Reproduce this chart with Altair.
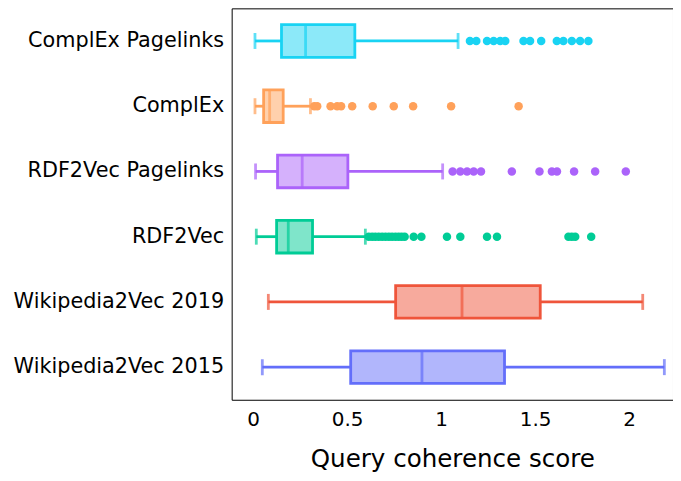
import altair as alt
import pandas as pd

models = ["ComplEx Pagelinks", "ComplEx", "RDF2Vec Pagelinks", "RDF2Vec",
          "Wikipedia2Vec 2019", "Wikipedia2Vec 2015"]
colors = ["#19D3F3", "#FFA15A", "#AB63FA", "#00CC96", "#EF553B", "#636EFA"]

lo = [0.010, 0.010, 0.013, 0.017, 0.081, 0.049]
q1 = [0.151, 0.056, 0.130, 0.125, 0.758, 0.519]
med = [0.279, 0.088, 0.261, 0.187, 1.111, 0.898]
q3 = [0.541, 0.160, 0.504, 0.316, 1.527, 1.337]
hi = [1.090, 0.305, 1.008, 0.597, 2.072, 2.187]

outliers = {
    "ComplEx Pagelinks": [1.153, 1.187, 1.244, 1.279, 1.314, 1.341, 1.438, 1.473,
                          1.532, 1.615, 1.650, 1.695, 1.739, 1.783],
    "ComplEx": [0.325, 0.341, 0.412, 0.447, 0.468, 0.527, 0.636, 0.748, 0.851,
                1.053, 1.412],
    "RDF2Vec Pagelinks": [1.061, 1.102, 1.138, 1.173, 1.212, 1.376, 1.523, 1.589,
                          1.616, 1.707, 1.819, 1.982],
    "RDF2Vec": [0.615, 0.633, 0.650, 0.668, 0.686, 0.704, 0.722, 0.739, 0.757,
                0.774, 0.790, 0.806, 0.854, 0.895, 1.031, 1.102, 1.244, 1.297,
                1.677, 1.695, 1.713, 1.798],
    "Wikipedia2Vec 2019": [],
    "Wikipedia2Vec 2015": [],
}

x_ticks = [0, 0.5, 1, 1.5, 2]

stats = pd.DataFrame({"model": models, "lo": lo, "q1": q1, "med": med,
                      "q3": q3, "hi": hi})
out_df = pd.DataFrame([{"model": m, "v": v} for m in models for v in outliers[m]])

FONT = "DejaVu Sans"
LW = 2.8
xscale = alt.Scale(domain=[-0.114, 2.233], nice=False, zero=False)
yscale = alt.Scale(domain=models, paddingInner=0.5, paddingOuter=0.25)
cscale = alt.Scale(domain=models, range=colors)
color = alt.Color("model:N", scale=cscale, legend=None)

xaxis = alt.Axis(values=x_ticks, format="~g", grid=False, ticks=False, domain=False,
                 labelFontSize=20, labelPadding=10, labelColor="black", labelFont=FONT,
                 title="Query coherence score", titleFontSize=24.6, titleFont=FONT,
                 titleFontWeight="normal", titleColor="black", titlePadding=18)
yaxis = alt.Axis(grid=False, ticks=False, domain=False, labelFontSize=20.8,
                 labelPadding=8, labelColor="black", labelFont=FONT, title=None,
                 labelLimit=0)

base = alt.Chart(stats)
y = alt.Y("model:N", scale=yscale, axis=yaxis, sort=models)

w_low = base.mark_rule(strokeWidth=LW).encode(
    x=alt.X("lo:Q", scale=xscale, axis=xaxis), x2="q1:Q", y=y, color=color)
w_high = base.mark_rule(strokeWidth=LW).encode(
    x=alt.X("q3:Q", scale=xscale), x2="hi:Q", y=y, color=color)
cap_lo = base.mark_tick(orient="vertical", size=16, thickness=LW).encode(
    x=alt.X("lo:Q", scale=xscale), y=y, color=color)
cap_hi = base.mark_tick(orient="vertical", size=16, thickness=LW).encode(
    x=alt.X("hi:Q", scale=xscale), y=y, color=color)
box = base.mark_bar(fillOpacity=0.5, strokeWidth=LW, strokeOpacity=1).encode(
    x=alt.X("q1:Q", scale=xscale), x2="q3:Q", y=y,
    fill=color, stroke=alt.Stroke("model:N", scale=cscale, legend=None))
median = base.mark_tick(orient="vertical", thickness=LW).encode(
    x=alt.X("med:Q", scale=xscale), y=y, color=color,
    size=alt.value(32))
pts = alt.Chart(out_df).mark_circle(size=72, opacity=1).encode(
    x=alt.X("v:Q", scale=xscale), y=alt.Y("model:N", scale=yscale, sort=models),
    color=color)

chart = alt.layer(w_low, w_high, box, median, cap_lo, cap_hi, pts).properties(
    width=442, height=392,
    padding={"left": 4, "top": 0, "right": 0, "bottom": 0},
    background="white",
).configure_view(stroke="black", strokeWidth=1)

chart.save("out.html", embed_options={"renderer": "svg", "actions": False})
